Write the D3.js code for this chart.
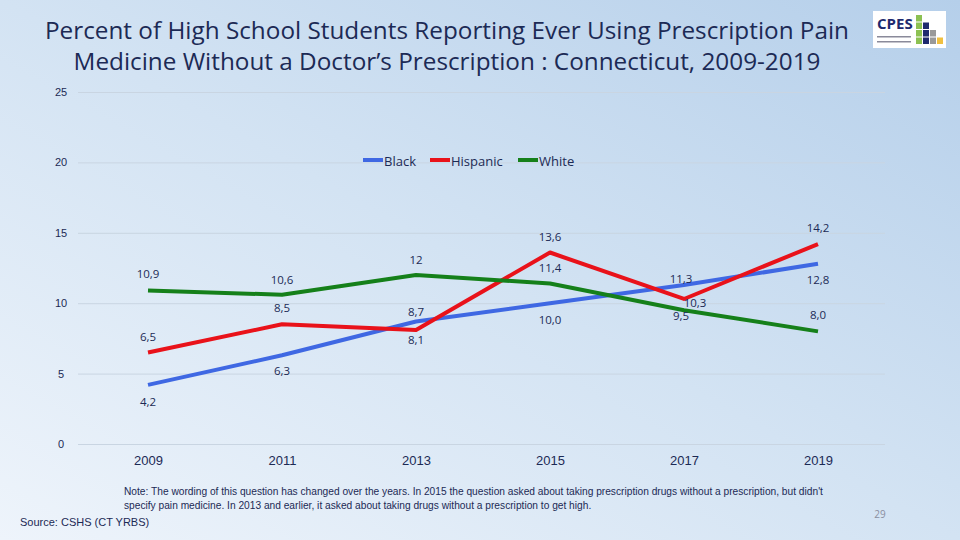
<!DOCTYPE html>
<html><head><meta charset="utf-8">
<script src="https://cdn.jsdelivr.net/npm/d3@7"></script>
<style>body{margin:0;overflow:hidden}svg{display:block}</style>
</head><body>
<script>
const years = [2009, 2011, 2013, 2015, 2017, 2019];
const seriesNames = ["Black", "Hispanic", "White"];
const black = [4.2, 6.3, 8.7, 10.0, 11.3, 12.8];
const hispanic = [6.5, 8.5, 8.1, 13.6, 10.3, 14.2];
const white = [10.9, 10.6, 12, 11.4, 9.5, 8.0];
const blackLabels = ["4,2", "6,3", "8,7", "10,0", "11,3", "12,8"];
const hispanicLabels = ["6,5", "8,5", "8,1", "13,6", "10,3", "14,2"];
const whiteLabels = ["10,9", "10,6", "12", "11,4", "9,5", "8,0"];
const yTicks = [0, 5, 10, 15, 20, 25];
const titleLines = ["Percent of High School Students Reporting Ever Using Prescription Pain",
  "Medicine Without a Doctor\u2019s Prescription : Connecticut, 2009-2019"];
const noteLines = ["Note: The wording of this question has changed over the years. In 2015 the question asked about taking prescription drugs without a prescription, but didn't",
  "specify pain medicine. In 2013 and earlier, it asked about taking drugs without a prescription to get high."];

// label placement (layout only): vertical offset of label centre from its point, px; horizontal nudge, px
const labelLayout = {
  Black: {dy: [17.5, 16, -10, 16.5, -6, 16.5], dx: [0, 0, 0, 0, -3, 0]},
  Hispanic: {dy: [-15, -16, 10, -16, 4, -16], dx: [0, 0, 0, 0, 11, 0]},
  White: {dy: [-17, -15, -15, -15, 6, -16], dx: [0, 0, 0, 0, -3, 0]}
};

const W = 960, H = 540;
const svg = d3.select("body").append("svg").attr("width", W).attr("height", H);
const defs = svg.append("defs");
const g = defs.append("linearGradient").attr("id", "bg").attr("x1", "0").attr("y1", "1").attr("x2", "1").attr("y2", "0");
g.append("stop").attr("offset", "0").attr("stop-color", "#eef4fb");
g.append("stop").attr("offset", "0.5").attr("stop-color", "#d3e3f3");
g.append("stop").attr("offset", "1").attr("stop-color", "#b5cfea");
svg.append("rect").attr("width", W).attr("height", H).attr("fill", "url(#bg)");

const navy = "#1c2a55";
// Title
svg.append("g").selectAll("text").data(titleLines).join("text")
  .attr("x", 447).attr("y", (d, i) => 39 + i * 31)
  .attr("text-anchor", "middle").attr("font-family", "Open Sans, sans-serif")
  .attr("font-size", 24.3).attr("fill", navy).text(d => d);

const x = d3.scalePoint().domain(years).range([148, 818]);
const y = d3.scaleLinear().domain([0, 25]).range([444, 92]);

// gridlines
const yAxis = d3.axisLeft(y).tickValues(yTicks).tickSize(-(885 - 78)).tickPadding(0);
const ya = svg.append("g").attr("transform", "translate(78,0)").call(yAxis);
ya.select(".domain").remove();
ya.selectAll(".tick line").attr("stroke", "#c9d5e2").attr("stroke-width", 1);
ya.selectAll(".tick text").attr("x", -17).attr("text-anchor", "middle")
  .attr("font-family", "Liberation Sans Narrow, Liberation Sans, sans-serif").attr("font-size", 11).attr("fill", navy);

const xAxis = d3.axisBottom(x).tickSize(0).tickPadding(0);
const xa = svg.append("g").attr("transform", "translate(0,444)").call(xAxis);
xa.select(".domain").remove();
xa.selectAll(".tick text").attr("dy", 0).attr("y", 21)
  .attr("font-family", "Liberation Sans Narrow, Liberation Sans, sans-serif").attr("font-size", 13).attr("fill", navy);

const series = [
  {name: "Black", vals: black, labels: blackLabels, color: "#3f68e3"},
  {name: "Hispanic", vals: hispanic, labels: hispanicLabels, color: "#e9121a"},
  {name: "White", vals: white, labels: whiteLabels, color: "#15801a"}
];
const line = d3.line().x((d, i) => x(years[i])).y(d => y(d));
series.forEach(s => {
  svg.append("path").datum(s.vals).attr("d", line).attr("fill", "none")
    .attr("stroke", s.color).attr("stroke-width", 4).attr("stroke-linejoin", "round");
});
series.forEach(s => {
  const L = labelLayout[s.name];
  svg.append("g").selectAll("text").data(s.vals).join("text")
    .attr("x", (d, i) => x(years[i]) + L.dx[i])
    .attr("y", (d, i) => y(d) + L.dy[i] + 4)
    .attr("text-anchor", "middle").attr("font-family", "Open Sans, sans-serif")
    .attr("font-size", 11.5).attr("fill", navy).text((d, i) => s.labels[i]);
});

// legend
const legX = [363, 430, 518];
const leg = svg.append("g");
series.forEach((s, i) => {
  leg.append("line").attr("x1", legX[i]).attr("x2", legX[i] + 20).attr("y1", 160).attr("y2", 160)
    .attr("stroke", s.color).attr("stroke-width", 4);
  leg.append("text").attr("x", legX[i] + 21).attr("y", 166).attr("font-family", "Open Sans, sans-serif")
    .attr("font-size", 13).attr("fill", navy).text(seriesNames[i]);
});

// logo
const logo = svg.append("g").attr("transform", "translate(873,11)");
logo.append("rect").attr("width", 73).attr("height", 37).attr("fill", "#ffffff");
logo.append("text").attr("x", 4).attr("y", 18).attr("font-family", "Open Sans, sans-serif").attr("font-weight", "bold")
  .attr("font-size", 15).attr("fill", "#1e2a6e").text("CPES");
logo.append("rect").attr("x", 4).attr("y", 25).attr("width", 34).attr("height", 1.5).attr("fill", "#8a8a9a");
logo.append("rect").attr("x", 4).attr("y", 30).attr("width", 34).attr("height", 1.5).attr("fill", "#8a8a9a");
const cells = [[0,0,"#8cc152"],[0,1,"#8cc152"],[1,1,"#1e2a6e"],[0,2,"#8cc152"],[1,2,"#1e2a6e"],[2,2,"#999999"],
  [0,3,"#8cc152"],[1,3,"#1e2a6e"],[2,3,"#999999"],[3,3,"#f0c040"]];
logo.selectAll("rect.c").data(cells).join("rect").attr("class", "c")
  .attr("x", d => 43 + d[0] * 7).attr("y", d => 4 + d[1] * 7.5).attr("width", 6).attr("height", 6.5).attr("fill", d => d[2]);

// note
svg.append("g").selectAll("text").data(noteLines).join("text")
  .attr("x", 124).attr("y", (d, i) => 495 + i * 14)
  .attr("font-family", "Liberation Sans Narrow, Liberation Sans, sans-serif").attr("font-size", 10.2)
  .attr("fill", navy).text(d => d);
svg.append("text").attr("x", 20).attr("y", 526).attr("font-family", "Liberation Sans Narrow, Liberation Sans, sans-serif")
  .attr("font-size", 11).attr("fill", navy).text("Source: CSHS (CT YRBS)");
svg.append("text").attr("x", 880).attr("y", 518).attr("text-anchor", "middle").attr("font-family", "Open Sans, sans-serif")
  .attr("font-size", 10).attr("fill", "#8a8fa0").text("29");
</script>
</body></html>
